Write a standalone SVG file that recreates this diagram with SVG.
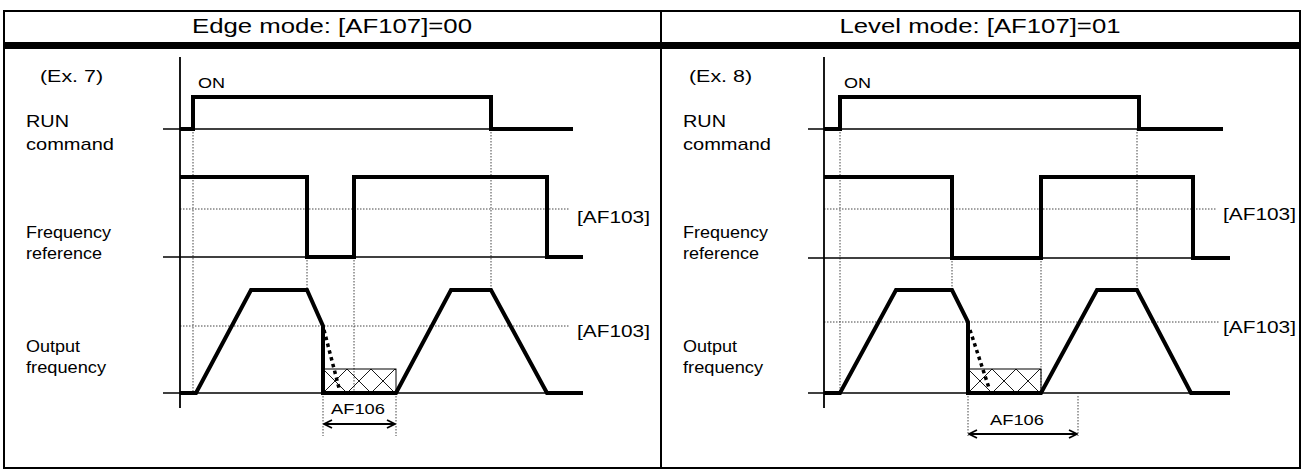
<svg xmlns="http://www.w3.org/2000/svg" width="1304" height="473" viewBox="0 0 1304 473">
<style>
text { font-family: "Liberation Sans", Arial, sans-serif; fill: #000; }
.hdr { font-size: 20px; text-anchor: middle; }
.lbl { font-size: 17px; }
.sm { font-size: 14px; }
.af { font-size: 15px; text-anchor: middle; }
.frame { stroke: #000; stroke-width: 2; fill: none; }
.axis { stroke: #000; stroke-width: 1.8; }
.thin { stroke: #000; stroke-width: 1.3; }
.sig { stroke: #000; stroke-width: 4; fill: none; stroke-linejoin: miter; }
.dot { stroke: #444; stroke-width: 1; stroke-dasharray: 1.5 1.5; fill: none; }
.dash { stroke: #000; stroke-width: 3.5; stroke-dasharray: 3.5 3.5; }
.hbox { stroke: #000; stroke-width: 1; }
.arr { stroke: #000; stroke-width: 2; marker-start: url(#ah); marker-end: url(#ah); }
</style>
<defs>
<marker id="ah" markerWidth="10" markerHeight="10" refX="9" refY="5" orient="auto-start-reverse" markerUnits="userSpaceOnUse">
<path d="M1,1 L9,5 L1,9" fill="none" stroke="#000" stroke-width="1.8"/>
</marker>
<pattern id="hatchL" patternUnits="userSpaceOnUse" x="323" y="369" width="24" height="24">
<path d="M0,0 L24,24 M0,24 L24,0" stroke="#000" stroke-width="0.9" fill="none"/>
</pattern>
<pattern id="hatchR" patternUnits="userSpaceOnUse" x="968" y="369" width="24" height="24">
<path d="M0,0 L24,24 M0,24 L24,0" stroke="#000" stroke-width="0.9" fill="none"/>
</pattern>
</defs>
<rect width="1304" height="473" fill="#fff"/>

<g id="table">
<rect class="frame" x="4" y="11" width="1296" height="457"/>
<line class="frame" x1="661" y1="11" x2="661" y2="468"/>
<rect x="4" y="42" width="1296" height="7" fill="#000"/>
<text class="hdr" x="332" y="33" textLength="280" lengthAdjust="spacingAndGlyphs">Edge mode: [AF107]=00</text>
<text class="hdr" x="980" y="33" textLength="281" lengthAdjust="spacingAndGlyphs">Level mode: [AF107]=01</text>
</g>

<g id="connectors">
<line class="dot" x1="193" y1="129" x2="193" y2="393"/>
<line class="dot" x1="491" y1="129" x2="491" y2="289"/>
<line class="dot" x1="307" y1="257" x2="307" y2="290"/>
<line class="dot" x1="354" y1="257" x2="354" y2="393"/>
<line class="dot" x1="180" y1="209" x2="570" y2="209"/>
<line class="dot" x1="180" y1="326" x2="570" y2="326"/>
<line class="dot" x1="323" y1="393" x2="323" y2="436"/>
<line class="dot" x1="396" y1="393" x2="396" y2="436"/>
<line class="arr" x1="324" y1="424" x2="395" y2="424"/>
<line class="dot" x1="840" y1="129" x2="840" y2="393"/>
<line class="dot" x1="1137" y1="129" x2="1137" y2="289"/>
<line class="dot" x1="952" y1="258" x2="952" y2="290"/>
<line class="dot" x1="1041" y1="258" x2="1041" y2="393"/>
<line class="dot" x1="824" y1="209" x2="1217" y2="209"/>
<line class="dot" x1="824" y1="322" x2="1220" y2="322"/>
<line class="dot" x1="968" y1="393" x2="968" y2="436"/>
<line class="dot" x1="1078" y1="396" x2="1078" y2="436"/>
<line class="arr" x1="969" y1="434" x2="1077" y2="434"/>
</g>

<g id="panel-edge">
<text class="lbl" x="40" y="82" textLength="63" lengthAdjust="spacingAndGlyphs">(Ex. 7)</text>
<line class="axis" x1="180" y1="57" x2="180" y2="408"/>
<g id="run-edge">
<text class="lbl" x="26" y="127" textLength="43" lengthAdjust="spacingAndGlyphs">RUN</text>
<text class="lbl" x="26" y="150" textLength="88" lengthAdjust="spacingAndGlyphs">command</text>
<text class="sm" x="198" y="88" textLength="27" lengthAdjust="spacingAndGlyphs">ON</text>
<line class="thin" x1="163" y1="129" x2="491" y2="129"/>
<path class="sig" d="M180,129 H193 V97 H491 V129 H573"/>
</g>
<g id="freq-ref-edge">
<text class="lbl" x="26" y="238" textLength="85" lengthAdjust="spacingAndGlyphs">Frequency</text>
<text class="lbl" x="26" y="259" textLength="76" lengthAdjust="spacingAndGlyphs">reference</text>
<text class="lbl" x="577" y="223" textLength="73" lengthAdjust="spacingAndGlyphs">[AF103]</text>
<line class="thin" x1="163" y1="257" x2="583" y2="257"/>
<path class="sig" d="M180,177 H307 V257 H354 V177 H547 V257 H583"/>
</g>
<g id="out-freq-edge">
<text class="lbl" x="26" y="352" textLength="54" lengthAdjust="spacingAndGlyphs">Output</text>
<text class="lbl" x="26" y="373" textLength="80" lengthAdjust="spacingAndGlyphs">frequency</text>
<text class="lbl" x="577" y="337" textLength="73" lengthAdjust="spacingAndGlyphs">[AF103]</text>
<line class="thin" x1="163" y1="393" x2="583" y2="393"/>
<rect class="hbox" x="323" y="369" width="73" height="24" fill="url(#hatchL)"/>
<path class="sig" d="M180,393 H196 L251,290 H307 L323,326 V393 H396 L451,290 H491 L547,393 H583"/>
<line class="dash" x1="324" y1="330" x2="339" y2="388"/>
<text class="af" x="358" y="414" textLength="54" lengthAdjust="spacingAndGlyphs">AF106</text>
</g>
</g>

<g id="panel-level">
<text class="lbl" x="689" y="82" textLength="63" lengthAdjust="spacingAndGlyphs">(Ex. 8)</text>
<line class="axis" x1="824" y1="57" x2="824" y2="408"/>
<g id="run-level">
<text class="lbl" x="683" y="127" textLength="43" lengthAdjust="spacingAndGlyphs">RUN</text>
<text class="lbl" x="683" y="150" textLength="88" lengthAdjust="spacingAndGlyphs">command</text>
<text class="sm" x="844" y="88" textLength="27" lengthAdjust="spacingAndGlyphs">ON</text>
<line class="thin" x1="808" y1="129" x2="1139" y2="129"/>
<path class="sig" d="M824,129 H840 V97 H1139 V129 H1223"/>
</g>
<g id="freq-ref-level">
<text class="lbl" x="683" y="238" textLength="85" lengthAdjust="spacingAndGlyphs">Frequency</text>
<text class="lbl" x="683" y="259" textLength="76" lengthAdjust="spacingAndGlyphs">reference</text>
<text class="lbl" x="1223" y="220" textLength="73" lengthAdjust="spacingAndGlyphs">[AF103]</text>
<line class="thin" x1="808" y1="258" x2="1230" y2="258"/>
<path class="sig" d="M824,177 H952 V258 H1041 V177 H1193 V258 H1230"/>
</g>
<g id="out-freq-level">
<text class="lbl" x="683" y="352" textLength="54" lengthAdjust="spacingAndGlyphs">Output</text>
<text class="lbl" x="683" y="373" textLength="80" lengthAdjust="spacingAndGlyphs">frequency</text>
<text class="lbl" x="1223" y="333" textLength="73" lengthAdjust="spacingAndGlyphs">[AF103]</text>
<line class="thin" x1="808" y1="393" x2="1230" y2="393"/>
<rect class="hbox" x="968" y="369" width="73" height="24" fill="url(#hatchR)"/>
<path class="sig" d="M824,393 H840 L896,290 H952 L968,322 V393 H1041 L1097,290 H1137 L1191,393 H1230"/>
<line class="dash" x1="970" y1="330" x2="989" y2="388"/>
<text class="af" x="1017" y="425" textLength="54" lengthAdjust="spacingAndGlyphs">AF106</text>
</g>
</g>
</svg>
